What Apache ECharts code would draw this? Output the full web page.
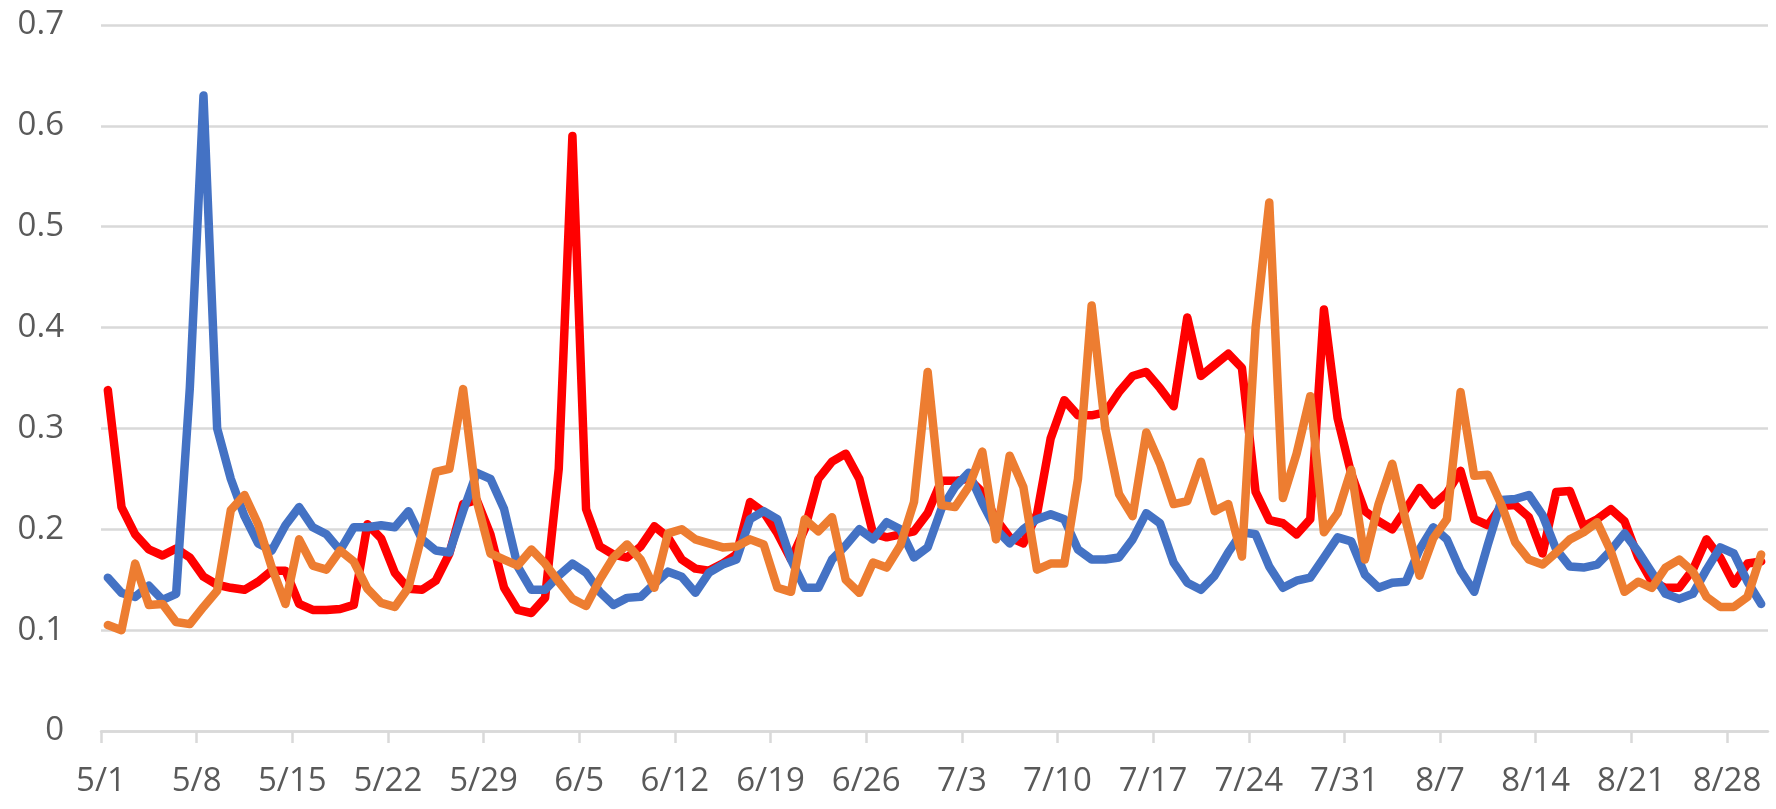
<!DOCTYPE html>
<html>
<head>
<meta charset="utf-8">
<script src="https://cdn.jsdelivr.net/npm/echarts@6/dist/echarts.min.js"></script>
<style>
  html, body { margin: 0; padding: 0; background: #fff; }
  #chart { width: 1776px; height: 809px; }
</style>
</head>
<body>
<div id="chart"></div>
<script>
// daily dates 5/1 .. 8/30
var months = [[5, 31], [6, 30], [7, 31], [8, 30]];
var days = [];
months.forEach(function (m) {
    for (var d = 1; d <= m[1]; d++) days.push(m[0] + '/' + d);
});

// weekly tick positions (5/1, 5/8, ... 8/28)
var tickDays = [0, 7, 14, 21, 28, 35, 42, 49, 56, 63, 70, 77, 84, 91, 98, 105, 112, 119];

var redValues = [
    0.338, 0.222, 0.195, 0.180, 0.174, 0.181, 0.172, 0.153, 0.145, 0.142,
    0.140, 0.148, 0.159, 0.159, 0.126, 0.120, 0.120, 0.121, 0.125, 0.205,
    0.191, 0.157, 0.141, 0.140, 0.149, 0.176, 0.225, 0.229, 0.195, 0.142,
    0.120, 0.117, 0.132, 0.260, 0.590, 0.220, 0.183, 0.175, 0.172, 0.183,
    0.203, 0.192, 0.170, 0.161, 0.159, 0.166, 0.175, 0.227, 0.217, 0.196,
    0.170, 0.200, 0.250, 0.267, 0.275, 0.250, 0.196, 0.192, 0.195, 0.198,
    0.216, 0.248, 0.248, 0.250, 0.237, 0.210, 0.192, 0.186, 0.215, 0.290,
    0.328, 0.313, 0.313, 0.316, 0.336, 0.352, 0.356, 0.340, 0.322, 0.410,
    0.352, 0.363, 0.374, 0.360, 0.237, 0.209, 0.206, 0.195, 0.210, 0.418,
    0.310, 0.255, 0.218, 0.208, 0.200, 0.220, 0.241, 0.224, 0.236, 0.258,
    0.210, 0.204, 0.223, 0.224, 0.212, 0.176, 0.237, 0.238, 0.203, 0.210,
    0.220, 0.208, 0.172, 0.148, 0.142, 0.142, 0.160, 0.190, 0.172, 0.146,
    0.166, 0.168
];

var blueValues = [
    0.152, 0.137, 0.133, 0.144, 0.130, 0.136, 0.340, 0.630, 0.300, 0.250,
    0.213, 0.186, 0.179, 0.204, 0.222, 0.202, 0.195, 0.179, 0.202, 0.202,
    0.204, 0.202, 0.218, 0.190, 0.179, 0.177, 0.218, 0.256, 0.250, 0.220,
    0.163, 0.140, 0.140, 0.154, 0.166, 0.157, 0.138, 0.125, 0.132, 0.133,
    0.146, 0.158, 0.153, 0.137, 0.157, 0.165, 0.170, 0.210, 0.218, 0.210,
    0.170, 0.142, 0.142, 0.170, 0.184, 0.200, 0.190, 0.207, 0.200, 0.172,
    0.182, 0.220, 0.242, 0.256, 0.226, 0.200, 0.186, 0.200, 0.210, 0.215,
    0.210, 0.180, 0.170, 0.170, 0.172, 0.190, 0.216, 0.206, 0.167, 0.147,
    0.140, 0.154, 0.177, 0.197, 0.195, 0.163, 0.142, 0.149, 0.152, 0.172,
    0.192, 0.188, 0.155, 0.142, 0.147, 0.148, 0.180, 0.202, 0.190, 0.159,
    0.138, 0.185, 0.229, 0.230, 0.234, 0.214, 0.180, 0.163, 0.162, 0.165,
    0.179, 0.196, 0.178, 0.157, 0.136, 0.131, 0.136, 0.160, 0.182, 0.176,
    0.148, 0.126
];

var orangeValues = [
    0.105, 0.100, 0.166, 0.125, 0.126, 0.108, 0.106, 0.123, 0.139, 0.219,
    0.234, 0.205, 0.162, 0.126, 0.190, 0.164, 0.160, 0.179, 0.168, 0.141,
    0.127, 0.123, 0.142, 0.195, 0.257, 0.260, 0.339, 0.228, 0.176, 0.170,
    0.164, 0.180, 0.166, 0.148, 0.131, 0.124, 0.150, 0.172, 0.185, 0.170,
    0.142, 0.196, 0.200, 0.190, 0.186, 0.182, 0.183, 0.190, 0.185, 0.142,
    0.138, 0.210, 0.198, 0.212, 0.150, 0.137, 0.167, 0.162, 0.184, 0.227,
    0.356, 0.224, 0.222, 0.242, 0.277, 0.190, 0.273, 0.242, 0.160, 0.166,
    0.166, 0.250, 0.422, 0.300, 0.235, 0.213, 0.296, 0.265, 0.225, 0.228,
    0.267, 0.218, 0.225, 0.173, 0.400, 0.524, 0.231, 0.275, 0.332, 0.197,
    0.216, 0.259, 0.170, 0.225, 0.265, 0.208, 0.154, 0.191, 0.210, 0.336,
    0.253, 0.254, 0.224, 0.187, 0.170, 0.165, 0.177, 0.190, 0.197, 0.207,
    0.178, 0.138, 0.148, 0.142, 0.162, 0.170, 0.158, 0.133, 0.123, 0.123,
    0.133, 0.175
];

// each day sits in the middle of its slot, ticks on the slot edges
function toPoints(vals) {
    return vals.map(function (v, i) { return [i + 0.5, v]; });
}

function lineSeries(name, vals, color) {
    return {
        name: name,
        type: 'line',
        data: toPoints(vals),
        showSymbol: false,
        symbol: 'none',
        lineStyle: { color: color, width: 8.5, join: 'round', cap: 'round' },
        itemStyle: { color: color }
    };
}

var chart = echarts.init(document.getElementById('chart'));
var gridColor = '#d9d9d9';
var textColor = '#595959';

chart.setOption({
    animation: false,
    backgroundColor: '#ffffff',
    grid: { left: 101, right: 8, top: 25, bottom: 78 },
    xAxis: {
        type: 'value',
        min: 0,
        max: days.length,
        splitLine: { show: false },
        axisLine: { show: true, lineStyle: { color: gridColor, width: 2.5 } },
        axisTick: {
            show: true,
            customValues: tickDays,
            length: 12,
            lineStyle: { color: gridColor, width: 2.5 }
        },
        axisLabel: {
            customValues: tickDays,
            margin: 34,
            color: textColor,
            fontSize: 33,
            fontFamily: 'Open Sans',
            formatter: function (v) { return days[Math.round(v)] || ''; }
        }
    },
    yAxis: {
        type: 'value',
        min: 0,
        max: 0.7,
        interval: 0.1,
        axisLine: { show: false },
        axisTick: { show: false },
        splitLine: { lineStyle: { color: gridColor, width: 2.5 } },
        axisLabel: {
            margin: 37,
            color: textColor,
            fontSize: 33,
            fontFamily: 'Open Sans',
            formatter: function (v) { return v === 0 ? '0' : v.toFixed(1); }
        }
    },
    series: [
        lineSeries('red', redValues, '#ff0000'),
        lineSeries('blue', blueValues, '#4472c4'),
        lineSeries('orange', orangeValues, '#ed7d31')
    ]
});
</script>
</body>
</html>
